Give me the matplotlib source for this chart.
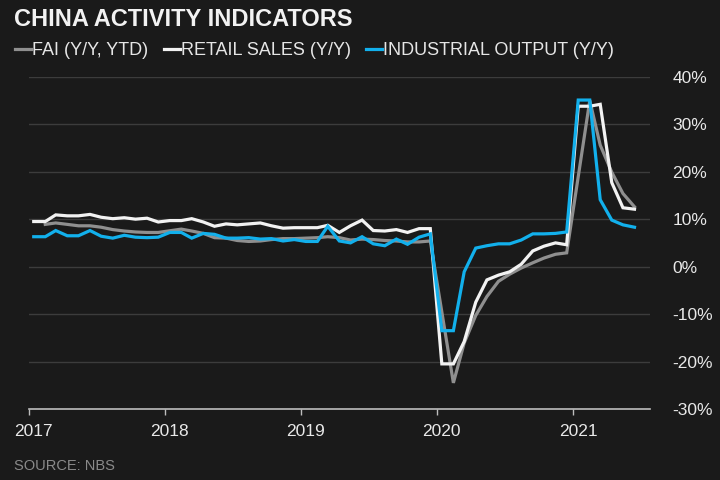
import numpy as np
import pandas as pd
import matplotlib
matplotlib.use("Agg")
import matplotlib.pyplot as plt
import matplotlib.dates as mdates
import matplotlib.transforms as mtransforms

plt.rcParams['font.family'] = ['Liberation Sans', 'DejaVu Sans']

# monthly, Jan 2017 - Jun 2021 (Jan values repeat the Jan-Feb release)
months = pd.date_range("2017-01-01", "2021-06-01", freq="MS") + pd.Timedelta(days=14)

fai = [np.nan, 8.9, 9.2, 8.9, 8.6, 8.6, 8.3, 7.8, 7.5, 7.3, 7.2, 7.2,
       np.nan, 7.9, 7.5, 7.0, 6.1, 6.0, 5.5, 5.3, 5.4, 5.7, 5.9, 5.9,
       np.nan, 6.1, 6.3, 6.1, 5.6, 5.8, 5.7, 5.5, 5.4, 5.2, 5.2, 5.4,
       np.nan, -24.5, -16.1, -10.3, -6.3, -3.1, -1.6, -0.3, 0.8, 1.8, 2.6, 2.9,
       np.nan, 35.0, 25.6, 19.9, 15.4, 12.6]

retail = [9.5, 9.5, 10.9, 10.7, 10.7, 11.0, 10.4, 10.1, 10.3, 10.0, 10.2, 9.4,
          9.7, 9.7, 10.1, 9.4, 8.5, 9.0, 8.8, 9.0, 9.2, 8.6, 8.1, 8.2,
          8.2, 8.2, 8.7, 7.2, 8.6, 9.8, 7.6, 7.5, 7.8, 7.2, 8.0, 8.0,
          -20.5, -20.5, -15.8, -7.5, -2.8, -1.8, -1.1, 0.5, 3.3, 4.3, 5.0, 4.6,
          33.8, 33.8, 34.2, 17.7, 12.4, 12.1]

industry = [6.3, 6.3, 7.6, 6.5, 6.5, 7.6, 6.4, 6.0, 6.6, 6.2, 6.1, 6.2,
            7.2, 7.2, 6.0, 7.0, 6.8, 6.0, 6.0, 6.1, 5.8, 5.9, 5.4, 5.7,
            5.3, 5.3, 8.5, 5.4, 5.0, 6.3, 4.8, 4.4, 5.8, 4.7, 6.2, 6.9,
            -13.5, -13.5, -1.1, 3.9, 4.4, 4.8, 4.8, 5.6, 6.9, 6.9, 7.0, 7.3,
            35.1, 35.1, 14.1, 9.8, 8.8, 8.3]

labels = ["FAI (Y/Y, YTD)", "RETAIL SALES (Y/Y)", "INDUSTRIAL OUTPUT (Y/Y)"]
colors = ["#8f8f8f", "#f2f2f2", "#12b0ec"]

bg = "#1a1a1a"
fig = plt.figure(figsize=(7.2, 4.8), dpi=100, facecolor=bg)
ax = fig.add_axes([0.0396, 0.148, 0.8634, 0.692], facecolor=bg)

for vals, lab, col in zip([fai, retail, industry], labels, colors):
    s = pd.Series(vals, index=months).dropna()
    ax.plot(s.index, s.values, color=col, lw=2.3, label=lab, solid_joinstyle="miter")

ax.set_ylim(-30, 40)
ax.set_xlim(pd.Timestamp("2017-01-01"), pd.Timestamp("2021-07-27"))
ax.set_yticks(range(-30, 41, 10))
ax.yaxis.set_major_formatter(plt.FuncFormatter(lambda v, p: f"{v:.0f}%"))
ax.yaxis.tick_right()
ax.tick_params(axis="y", length=0, pad=16, labelsize=12.5, labelcolor="#e8e8e8")
ax.xaxis.set_major_locator(mdates.YearLocator())
ax.xaxis.set_major_formatter(mdates.DateFormatter("%Y"))
ax.tick_params(axis="x", length=4, width=1, color="#bdbdbd", pad=7,
               labelsize=12.5, labelcolor="#e8e8e8")

# year labels sit a little right of their ticks
shift = mtransforms.ScaledTranslation(0.05, 0, fig.dpi_scale_trans)
for lbl in ax.get_xticklabels():
    lbl.set_transform(lbl.get_transform() + shift)

ax.grid(axis="y", color="#3c3c3c", lw=1)
for sp in ["top", "left", "right"]:
    ax.spines[sp].set_visible(False)
ax.spines["bottom"].set_color("#bdbdbd")
ax.spines["bottom"].set_linewidth(1.2)

fig.text(0.019, 0.96, "CHINA ACTIVITY INDICATORS", color="#f2f2f2",
         fontsize=17, fontweight="bold", va="center", ha="left")

fig.legend(loc="center left", bbox_to_anchor=(0.021, 0.895), ncol=3, frameon=False,
           handlelength=0.9, handletextpad=0.05, columnspacing=0.85,
           fontsize=13, labelcolor="#e6e6e6", borderaxespad=0, borderpad=0)

fig.text(0.019, 0.029, "SOURCE: NBS", color="#8a8a8a", fontsize=10.5,
         va="center", ha="left")

fig.savefig("out.png", dpi=100, facecolor=bg)
